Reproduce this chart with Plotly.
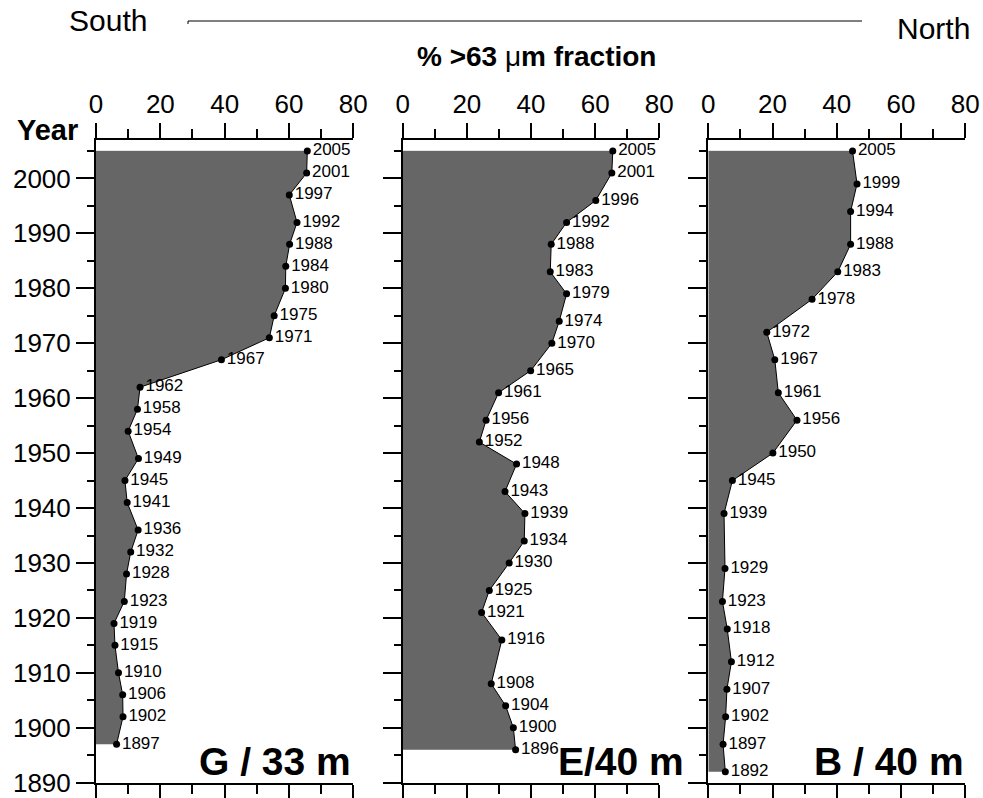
import plotly.graph_objects as go

FONT = "Arial, Liberation Sans, sans-serif"

# ---- data ----
g_years = [2005, 2001, 1997, 1992, 1988, 1984, 1980, 1975, 1971, 1967, 1962, 1958, 1954,
           1949, 1945, 1941, 1936, 1932, 1928, 1923, 1919, 1915, 1910, 1906, 1902, 1897]
g_vals = [65.7, 65.5, 60.1, 62.5, 60.2, 59.0, 58.9, 55.4, 53.9, 39.0, 13.7, 12.9, 10.0,
          13.2, 9.0, 9.7, 13.1, 10.8, 9.5, 8.8, 5.6, 5.9, 7.0, 8.3, 8.4, 6.4]

e_years = [2005, 2001, 1996, 1992, 1988, 1983, 1979, 1974, 1970, 1965, 1961, 1956, 1952,
           1948, 1943, 1939, 1934, 1930, 1925, 1921, 1916, 1908, 1904, 1900, 1896]
e_vals = [65.5, 65.2, 60.2, 51.1, 46.3, 46.0, 51.1, 48.8, 46.5, 39.9, 29.9, 26.0, 23.9,
          35.5, 31.9, 38.1, 37.9, 33.2, 27.0, 24.6, 30.9, 27.6, 32.1, 34.5, 35.2]

b_years = [2005, 1999, 1994, 1988, 1983, 1978, 1972, 1967, 1961, 1956, 1950, 1945, 1939,
           1929, 1923, 1918, 1912, 1907, 1902, 1897, 1892]
b_vals = [44.9, 46.3, 44.3, 44.3, 40.3, 32.3, 18.2, 20.7, 21.8, 27.6, 20.1, 7.5, 4.9,
          5.2, 4.4, 5.9, 7.2, 5.8, 5.4, 4.6, 5.3]

panel_names = ["G / 33 m", "E/40 m", "B / 40 m"]
x_ticks = [0, 20, 40, 60, 80]
year_ticks = [1890, 1900, 1910, 1920, 1930, 1940, 1950, 1960, 1970, 1980, 1990, 2000]

W, H = 983, 798
domains_px = [(96, 353.3), (402.7, 659.3), (708.3, 965.3)]
y_top_px, y_bot_px = 140, 782.7
label_shift = [0, 27, 1]

fig = go.Figure()
panels = [(g_years, g_vals), (e_years, e_vals), (b_years, b_vals)]
for i, (yrs, vals) in enumerate(panels):
    xa = "x" if i == 0 else f"x{i+1}"
    ya = "y" if i == 0 else f"y{i+1}"
    # light edge at top of fill
    fig.add_trace(go.Scatter(x=[0, vals[0]], y=[yrs[0], yrs[0]], mode="lines",
                             line=dict(color="rgb(200,200,200)", width=1),
                             xaxis=xa, yaxis=ya, showlegend=False, hoverinfo="skip"))
    fig.add_trace(go.Scatter(
        x=vals, y=yrs, mode="lines+markers+text",
        text=[str(y) for y in yrs], textposition="middle right",
        textfont=dict(family=FONT, size=17, color="black"),
        fill="tozerox", fillcolor="rgb(102,102,102)",
        line=dict(color="black", width=1),
        marker=dict(color="black", size=7),
        cliponaxis=False, xaxis=xa, yaxis=ya, showlegend=False, hoverinfo="skip"))

    sfx = "" if i == 0 else str(i + 1)
    d0, d1 = domains_px[i]
    fig.layout["xaxis" + sfx] = dict(
        domain=[d0 / W, d1 / W], range=[0, 80], side="top", anchor="y" + sfx,
        tickvals=x_ticks, ticks="outside", ticklen=15, tickwidth=2, tickcolor="black",
        minor=dict(dtick=10, tick0=0, ticks="outside", ticklen=9, tickwidth=2, tickcolor="black"),
        showline=True, linewidth=2, linecolor="black", mirror="ticks",
        showgrid=False, zeroline=False, automargin=False,
        tickfont=dict(family=FONT, size=26, color="black"))
    fig.layout["yaxis" + sfx] = dict(
        domain=[1 - y_bot_px / H, 1 - y_top_px / H], range=[1890, 2007], anchor="x" + sfx,
        tickvals=year_ticks, ticks="outside", ticklen=18, tickwidth=2, tickcolor="black",
        minor=dict(dtick=5, tick0=1890, ticks="outside", ticklen=7, tickwidth=2, tickcolor="black"),
        showline=True, linewidth=2, linecolor="black", mirror=False,
        showgrid=False, zeroline=False, showticklabels=(i == 0), automargin=False,
        tickfont=dict(family=FONT, size=26, color="black"))

annotations = []
for i, name in enumerate(panel_names):
    sfx = "" if i == 0 else str(i + 1)
    annotations.append(dict(text=f"<b>{name}</b>", xref=f"x{sfx} domain", x=1, xanchor="right",
                            xshift=label_shift[i],
                            yref="paper", y=1 - 761 / H, yanchor="middle", showarrow=False,
                            font=dict(family=FONT, size=39, color="black")))

annotations += [
    dict(text="<b>Year</b>", xref="paper", yref="paper", x=80 / W, xanchor="right",
         y=1 - 130 / H, yanchor="middle", showarrow=False,
         font=dict(family=FONT, size=29, color="black")),
    dict(text="<b>% >63 </b>μ<b>m fraction</b>", xref="paper", yref="paper", x=536 / W,
         xanchor="center", y=1 - 57 / H, yanchor="middle", showarrow=False,
         font=dict(family=FONT, size=28, color="black")),
    dict(text="South", xref="paper", yref="paper", x=108 / W, xanchor="center",
         y=1 - 21 / H, yanchor="middle", showarrow=False,
         font=dict(family=FONT, size=30, color="black")),
    dict(text="North", xref="paper", yref="paper", x=933 / W, xanchor="center",
         y=1 - 29 / H, yanchor="middle", showarrow=False,
         font=dict(family=FONT, size=30, color="black")),
]

shapes = [
    dict(type="line", xref="paper", yref="paper", x0=188 / W, x1=862 / W,
         y0=1 - 21 / H, y1=1 - 21 / H, line=dict(color="black", width=1)),
    dict(type="line", xref="paper", yref="paper", x0=188 / W, x1=188 / W,
         y0=1 - 21 / H, y1=1 - 24 / H, line=dict(color="black", width=1)),
]

fig.update_layout(width=W, height=H, margin=dict(l=0, r=0, t=0, b=0, autoexpand=False),
                  paper_bgcolor="white", plot_bgcolor="white",
                  annotations=annotations, shapes=shapes, showlegend=False)

fig.write_html("out.html")
